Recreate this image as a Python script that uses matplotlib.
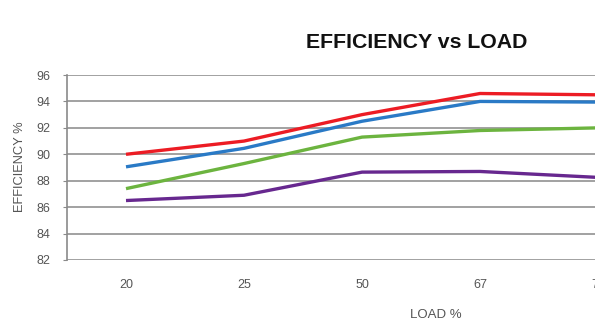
import matplotlib
matplotlib.use("Agg")
import matplotlib.pyplot as plt

plt.rcParams['font.family'] = ['Liberation Sans', 'DejaVu Sans']

loads = ["20", "25", "50", "67", "75"]
red = [90.0, 91.0, 93.0, 94.6, 94.5]
blue = [89.05, 90.45, 92.5, 94.0, 93.95]
green = [87.4, 89.3, 91.3, 91.8, 92.0]
purple = [86.5, 86.9, 88.65, 88.7, 88.25]
yticks = [82, 84, 86, 88, 90, 92, 94, 96]

W, H = 595, 335
fig = plt.figure(figsize=(W / 100, H / 100), dpi=100)
ax = fig.add_axes([67 / W, 75 / H, 590 / W, 185 / H])

x = range(len(loads))
for vals, col in [(red, '#ec1c24'), (blue, '#2a7ac6'), (green, '#6cb43f'), (purple, '#67288f')]:
    ax.plot(x, vals, color=col, lw=2.4, solid_capstyle='butt', zorder=3)

ax.set_xlim(-0.5, len(loads) - 0.5)
ax.set_ylim(82, 96)
ax.set_yticks(yticks)
ax.set_xticks(list(x))
ax.set_xticklabels(loads)
ax.grid(axis='y', color='#9a9a9a', lw=1.3)
ax.set_axisbelow(True)
for s in ['top', 'right', 'bottom']:
    ax.spines[s].set_visible(False)
ax.spines['left'].set_color('#8a8a8a')
ax.spines['left'].set_linewidth(1.2)
ax.tick_params(axis='y', length=3, color='#8a8a8a', labelsize=9, labelcolor='#555555', pad=9)
ax.tick_params(axis='x', length=0, labelsize=9, labelcolor='#555555', pad=14)

fig.text(417 / W, 1 - 42 / H, "EFFICIENCY vs LOAD", ha='center', va='center',
         fontsize=15.3, fontweight='bold', color='#111111')
fig.text(20 / W, 1 - 167 / H, "EFFICIENCY %", rotation=90, ha='center', va='center',
         fontsize=9.3, color='#555555')
fig.text(436 / W, 1 - 315 / H, "LOAD %", ha='center', va='center',
         fontsize=9.5, color='#555555')

fig.savefig("out.png", dpi=100)
